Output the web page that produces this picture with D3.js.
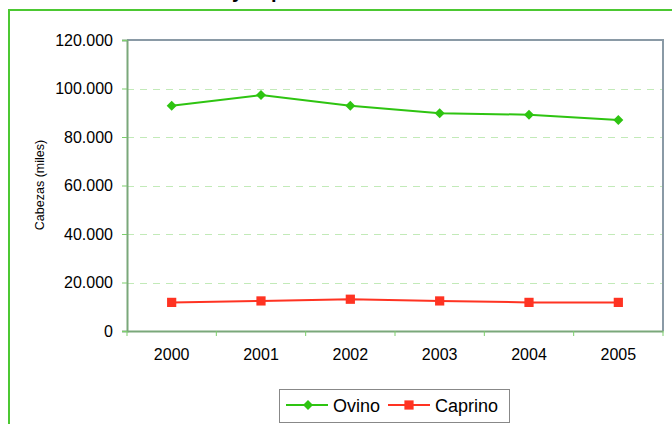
<!DOCTYPE html>
<html>
<head>
<meta charset="utf-8">
<script src="https://cdn.jsdelivr.net/npm/d3@7/dist/d3.min.js"></script>
<style>
  html, body { margin: 0; padding: 0; background: #fff; }
  svg { display: block; font-family: "Liberation Sans", Arial, sans-serif; }
</style>
</head>
<body>
<svg id="chart" width="672" height="424"></svg>
<script>
// ---- data ----
const years = ["2000", "2001", "2002", "2003", "2004", "2005"];
const ovino = [92900, 97300, 92900, 89800, 89200, 87000];
const caprino = [11800, 12400, 13100, 12400, 11800, 11800];
const yTicks = [0, 20000, 40000, 60000, 80000, 100000, 120000];
const seriesNames = ["Ovino", "Caprino"];
const titleText = "Evolución del censo ovino y caprino en Castilla-La Mancha";
const yTitle = "Cabezas (miles)";

// ---- styles ----
const green = "#2ec411";
const red = "#ff3322";

const svg = d3.select("#chart");
const plot = { left: 127, top: 40, right: 663, bottom: 331 };

// outer chart border (extends beyond the window on right and bottom)
svg.append("rect")
  .attr("x", 9).attr("y", 10).attr("width", 720).attr("height", 460)
  .attr("fill", "#fff").attr("stroke", "#4cc832").attr("stroke-width", 2);

// title (cut off at top, only descenders visible)
const title = svg.append("text")
  .attr("y", -2.5)
  .attr("font-size", 20).attr("font-weight", "bold").attr("fill", "#000")
  .text(titleText);
{
  const node = title.node();
  const idx = titleText.indexOf(" y ") + 1;
  const pre = node.getSubStringLength(0, idx);
  title.attr("x", 232 - pre);
}

const x = d3.scaleBand().domain(years).range([plot.left, plot.right]);
const y = d3.scaleLinear().domain([0, 120000]).range([plot.bottom, plot.top]);

const fmt = d3.formatLocale({ decimal: ",", thousands: ".", grouping: [3], currency: ["", ""] }).format(",");

// gridlines
svg.append("g").selectAll("line")
  .data(yTicks.filter(d => d > 0 && d < 120000))
  .join("line")
  .attr("x1", plot.left).attr("x2", plot.right)
  .attr("y1", d => Math.round(y(d)) + 0.5).attr("y2", d => Math.round(y(d)) + 0.5)
  .attr("stroke", "#c2eab8").attr("stroke-width", 1)
  .attr("stroke-dasharray", "7,6");

// plot border top/right
svg.append("path")
  .attr("d", `M${plot.left},${plot.top}H${plot.right}V${plot.bottom}`)
  .attr("fill", "none").attr("stroke", "#8a9aa6").attr("stroke-width", 2);

// y axis
const yAxis = svg.append("g")
  .attr("transform", `translate(${plot.left},0)`)
  .call(d3.axisLeft(y).tickValues(yTicks).tickFormat(fmt).tickSize(5).tickPadding(9));
yAxis.select(".domain").attr("stroke", "#7aa87a").attr("stroke-width", 2);
yAxis.selectAll(".tick line").attr("stroke", "#7ccf6c").attr("stroke-width", 1);
yAxis.selectAll(".tick text").attr("font-size", 16).attr("fill", "#000")
  .attr("font-family", "Liberation Sans, Arial, sans-serif");

// x axis
const xAxis = svg.append("g")
  .attr("transform", `translate(0,${plot.bottom})`)
  .call(d3.axisBottom(x).tickSize(0).tickPadding(18));
xAxis.select(".domain").attr("stroke", "#7aa87a").attr("stroke-width", 2);
xAxis.selectAll(".tick text").attr("font-size", 16).attr("fill", "#000")
  .attr("font-family", "Liberation Sans, Arial, sans-serif");
// ticks at category boundaries
const bounds = years.map(d => x(d)).concat([x(years[years.length - 1]) + x.bandwidth()]);
svg.append("g").selectAll("line").data(bounds).join("line")
  .attr("x1", d => d).attr("x2", d => d)
  .attr("y1", plot.bottom).attr("y2", plot.bottom + 5)
  .attr("stroke", "#7ccf6c").attr("stroke-width", 1);

// y title
svg.append("text")
  .attr("transform", `translate(44,185) rotate(-90)`)
  .attr("text-anchor", "middle")
  .attr("font-size", 12.5).attr("fill", "#000")
  .text(yTitle);

// series
const cx = d => x(d) + x.bandwidth() / 2;
const line = d3.line().x(d => cx(d.year)).y(d => y(d.v));
const diamond = d3.symbol(d3.symbolSquare, 50);
const square = d3.symbol(d3.symbolSquare, 85);

const ovData = years.map((yr, i) => ({ year: yr, v: ovino[i] }));
const caData = years.map((yr, i) => ({ year: yr, v: caprino[i] }));

svg.append("path").datum(ovData).attr("d", line)
  .attr("fill", "none").attr("stroke", green).attr("stroke-width", 2);
svg.append("g").selectAll("path").data(ovData).join("path")
  .attr("d", diamond)
  .attr("transform", d => `translate(${cx(d.year)},${y(d.v)}) rotate(45)`)
  .attr("fill", green);

svg.append("path").datum(caData).attr("d", line)
  .attr("fill", "none").attr("stroke", red).attr("stroke-width", 2);
svg.append("g").selectAll("path").data(caData).join("path")
  .attr("d", square)
  .attr("transform", d => `translate(${cx(d.year)},${y(d.v)})`)
  .attr("fill", red);

// legend
const lg = svg.append("g");
lg.append("rect").attr("x", 279.5).attr("y", 389.5).attr("width", 230).attr("height", 33)
  .attr("fill", "#fff").attr("stroke", "#888").attr("stroke-width", 1);
const ly = 405;
lg.append("line").attr("x1", 286).attr("x2", 328).attr("y1", ly).attr("y2", ly)
  .attr("stroke", green).attr("stroke-width", 2);
lg.append("path").attr("d", diamond).attr("transform", `translate(308,${ly}) rotate(45)`).attr("fill", green);
lg.append("text").attr("x", 333).attr("y", ly + 6.5).attr("font-size", 18).attr("fill", "#000").text(seriesNames[0]);
lg.append("line").attr("x1", 388).attr("x2", 430).attr("y1", ly).attr("y2", ly)
  .attr("stroke", red).attr("stroke-width", 2);
lg.append("path").attr("d", square).attr("transform", `translate(409,${ly})`).attr("fill", red);
lg.append("text").attr("x", 435).attr("y", ly + 6.5).attr("font-size", 18).attr("fill", "#000").text(seriesNames[1]);
</script>
</body>
</html>
